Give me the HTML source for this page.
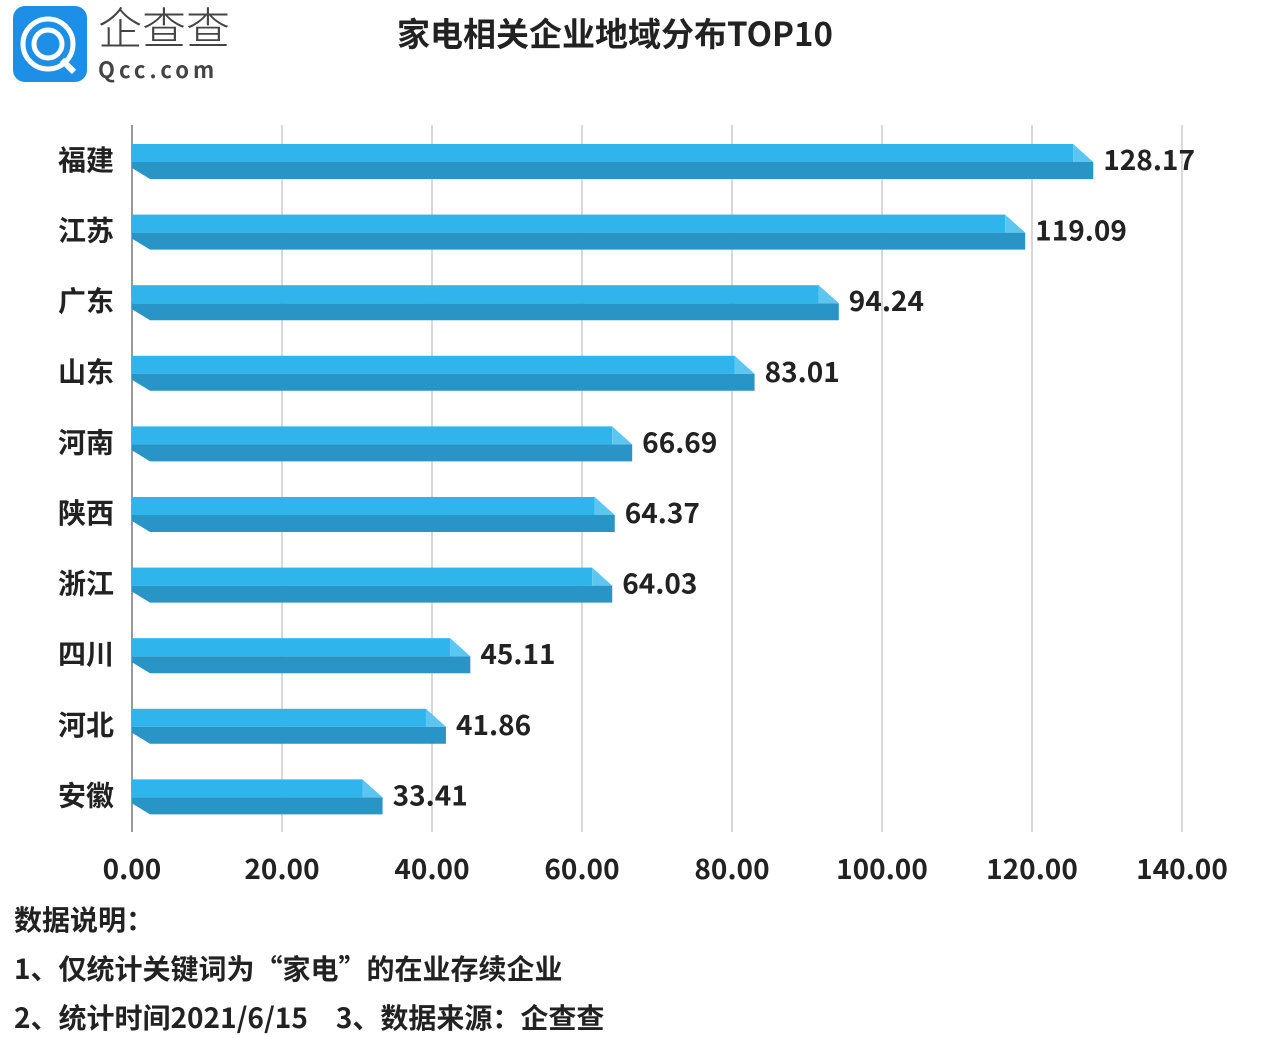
<!DOCTYPE html>
<html><head><meta charset="utf-8"><style>
body{margin:0;background:#fff;width:1266px;height:1038px;overflow:hidden;font-family:"Noto Sans CJK SC","Liberation Sans",sans-serif}
svg text{font-family:"Noto Sans CJK SC","Liberation Sans",sans-serif}
</style></head><body>
<svg width="1266" height="1038" style="position:absolute;left:0;top:0">
<g>
<rect x="13" y="6" width="74" height="76" rx="12" fill="#1e8fe6"/>
<circle cx="48" cy="44" r="25" fill="none" stroke="#fff" stroke-width="5"/>
<circle cx="48" cy="44" r="14" fill="none" stroke="#fff" stroke-width="5"/>
<line x1="62" y1="60" x2="74" y2="72" stroke="#fff" stroke-width="6"/>
<text x="98" y="44" font-size="44" fill="#444" font-weight="300">企查查</text>
<text x="98" y="78" font-size="22" fill="#444" letter-spacing="4" font-weight="bold">Qcc.com</text>
</g>
<text x="615" y="46" text-anchor="middle" font-size="33" font-weight="bold" fill="#222">家电相关企业地域分布TOP10</text>
<g id="grid"></g><g id="bars"></g>
<g font-size="28" font-weight="bold" fill="#222">
<text x="14" y="930">数据说明：</text>
<text x="14" y="979">1、仅统计关键词为“家电”的在业存续企业</text>
<text x="14" y="1028">2、统计时间2021/6/15　3、数据来源：企查查</text>
</g>
</svg>
<script>
const categories=["福建","江苏","广东","山东","河南","陕西","浙江","四川","河北","安徽"];
const values=[128.17,119.09,94.24,83.01,66.69,64.37,64.03,45.11,41.86,33.41];
const ticks=[0,20,40,60,80,100,120,140];
const NS="http://www.w3.org/2000/svg";
const x=v=>132+v*7.5, y=i=>160+i*70.6;
const g=document.getElementById('grid'), b=document.getElementById('bars');
function mk(t,a,p){const e=document.createElementNS(NS,t);for(const k in a)e.setAttribute(k,a[k]);p.appendChild(e);return e;}
ticks.forEach(t=>{
 const l=mk('line',{x1:x(t),x2:x(t),y1:125,y2:832,stroke:t?'#ccc':'#999','stroke-width':t?1.5:2},g);
 
 
 const tx=mk('text',{x:x(t),y:879,'text-anchor':'middle','font-size':28,'font-weight':'bold',fill:'#222'},g);
 tx.textContent=t.toFixed(2);
 
 
});
categories.forEach((c,i)=>{
 const cy=y(i), xe=x(values[i]);
 const gg=mk('g',{},b);
 
 
 mk('polygon',{points:`132,${cy+2} ${xe},${cy+2} ${xe},${cy+19} ${150},${cy+19} 132,${cy+8}`,fill:'#2994c6'},gg);
 mk('rect',{x:132,y:cy-16,width:xe-20-132,height:18,fill:'#2fb4ec'},gg);
 mk('polygon',{points:`${xe-20},${cy-16} ${xe},${cy+2} ${xe-20},${cy+2}`,fill:'#5cc6f1'},gg);
 const vl=mk('text',{x:xe+10,y:cy+10,'font-size':28,'font-weight':'bold',fill:'#222'},b);
 vl.textContent=values[i].toFixed(2);
 
 
 const cl=mk('text',{x:114,y:cy+10,'text-anchor':'end','font-size':28,'font-weight':'bold',fill:'#222'},b);
 cl.textContent=c;
 
 
});
</script>
</body></html>
